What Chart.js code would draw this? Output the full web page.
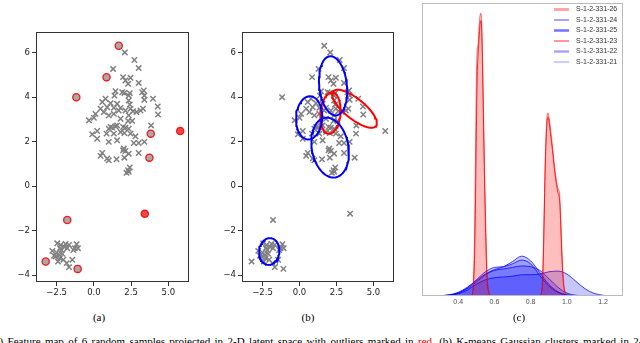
<!DOCTYPE html>
<html><head><meta charset="utf-8">
<script src="https://cdn.jsdelivr.net/npm/chart.js@4.4.1/dist/chart.umd.min.js"></script>
<style>
html,body{margin:0;padding:0;background:#fff;width:640px;height:343px;overflow:hidden;position:relative;}
canvas{position:absolute;top:0;}
.cap{position:absolute;top:311px;font-family:"Liberation Serif","Times New Roman",serif;font-size:11px;color:#000;transform:translateX(-50%);white-space:nowrap;}
#caption{position:absolute;left:-9px;top:335px;font-family:"Liberation Serif","Times New Roman",serif;font-size:11px;white-space:nowrap;word-spacing:1.6px;color:#000;}
#caption span{color:#e00;}
</style></head>
<body>
<canvas id="ca" width="200" height="300" style="left:0px"></canvas>
<canvas id="cb" width="200" height="300" style="left:205px"></canvas>
<canvas id="cc" width="226" height="312" style="left:414px"></canvas>
<div class="cap" style="left:99px">(a)</div>
<div class="cap" style="left:308px">(b)</div>
<div class="cap" style="left:519px">(c)</div>
<div id="caption">(a) Feature map of 6 random samples projected in 2-D latent space with outliers marked in <span>red</span>. (b) K-means Gaussian clusters marked in 2-D latent space (c) KDE</div>
<script>
// ---------- data: panels (a) and (b) ----------
const mainX = [2.08,2.72,3.01,1.29,1.96,2.46,2.12,2.30,3.01,3.24,3.35,1.45,1.90,2.05,2.41,1.38,2.34,3.39,3.97,3.39,2.34,0.78,0.56,1.12,1.56,2.41,4.29,0.89,0.45,1.34,1.67,1.79,2.12,2.46,2.63,3.13,2.86,3.30,0.11,0.67,1.00,1.34,0.00,-0.33,4.31,2.34,1.79,2.30,2.57,1.56,1.12,1.00,1.23,1.45,1.96,2.12,2.34,-0.11,0.22,0.22,0.85,1.34,1.79,2.05,2.46,2.79,1.00,1.56,2.68,3.01,3.39,3.84,2.01,2.12,1.96,2.34,3.01,0.56,0.45,0.89,1.00,1.52,2.05,2.41,2.30,2.19,2.34];
const mainY = [6.01,5.67,5.31,5.27,4.90,4.87,4.75,4.60,4.64,4.22,4.30,4.27,4.22,4.19,4.18,4.07,4.07,4.07,3.93,3.88,3.85,3.93,3.78,3.73,3.70,3.67,3.58,3.55,3.48,3.52,3.40,3.52,3.40,3.48,3.37,3.40,3.33,3.48,3.25,3.33,3.18,3.25,3.07,2.96,3.22,3.18,3.03,2.93,2.93,2.73,2.66,2.58,2.63,2.69,2.66,2.63,2.58,2.33,2.48,2.13,2.36,2.36,2.43,2.39,2.36,2.24,1.99,2.06,1.94,1.94,1.99,2.73,1.69,1.58,1.61,1.46,1.49,1.49,1.36,1.24,1.16,1.21,1.28,0.84,0.72,0.60,0.64];
const lowX = [-2.79,-2.46,-2.23,-1.90,-1.67,-1.16,-1.07,-2.28,-2.01,-1.79,-2.50,-2.34,-2.12,-2.57,-2.28,-2.05,-2.41,-1.38,-1.45,-1.83,-1.67,-1.29,-2.68,-2.17];
const lowY = [-2.91,-2.57,-2.64,-2.60,-2.64,-2.61,-2.79,-2.79,-2.72,-2.79,-2.99,-3.09,-3.04,-3.16,-3.24,-3.31,-3.39,-2.87,-3.31,-3.46,-3.64,-2.79,-3.13,-2.88];
const outlierX = [1.67,0.85,-1.18,3.82,5.80,3.73,3.42,-1.79,-3.24,-1.09];
const outlierY = [6.31,4.90,4.00,2.36,2.48,1.28,-1.24,-1.52,-3.39,-3.72];
const outlierKind = [0,0,0,0,1,0,1,0,0,0];
// Gaussian cluster ellipses (centre, two conjugate half-axes, in data units)
const ellCX = [2.27, 0.65, 2.07, -2.05, 2.09, 3.72];
const ellCY = [4.51, 3.07, 1.73, -2.94, 3.28, 3.48];
const ellUX = [-0.22, 0.10, -0.36, 0.10, 0.10, 1.45];
const ellUY = [1.33, 0.97, 1.34, 0.60, 0.93, -0.78];
const ellVX = [0.93, 0.88, 1.22, 0.68, 0.68, 0.43];
const ellVY = [0.07, -0.05, 0.14, -0.05, 0.00, 0.35];
const ellKind = ['blue','blue','blue','blue','red','red'];
const scatterXTicks = [-2.5, 0, 2.5, 5];
const scatterYTicks = [-4, -2, 0, 2, 4, 6];

// ---------- data: panel (c) ----------
const seriesNames = ['S-1-2-331-26','S-1-2-331-24','S-1-2-331-25','S-1-2-331-23','S-1-2-331-22','S-1-2-331-21'];
const redX = [0.2,0.46,0.475,0.48,0.485,0.49,0.495,0.50,0.505,0.51,0.515,0.52,0.525,0.53,0.535,0.54,0.545,0.55,0.555,0.56,0.57,0.58,
              0.85,0.86,0.865,0.87,0.875,0.88,0.885,0.89,0.895,0.90,0.91,0.92,0.93,0.94,0.95,0.96,0.965,0.97,0.975,0.98,0.99,1.0,1.31];
const s26 = [0,0,0.1,0.4,1.5,4,9,14.5,16.8,17.2,18.3,19.1,19.3,18.5,16,12.5,9,6,3.5,1.5,0.3,0,
             0,0.3,1,3,6,9,11,12.2,12.5,12.3,11.4,10.3,9.1,8.1,7.4,6.9,5.8,4,2.5,1.3,0.3,0,0];
const s23 = [0,0,0,0.2,0.8,2.5,6,11,15,16.5,17.5,18.5,18.8,18,15,11.5,8,5,2.5,1,0.2,0,
             0,0.2,0.8,2.5,5.5,8.5,10.5,11.8,12.2,12,11,10,8.8,7.8,7.1,6.5,5.2,3.5,2,1,0.2,0,0];
const blueX = [0.2,0.25,0.3,0.35,0.4,0.45,0.5,0.55,0.6,0.65,0.7,0.75,0.8,0.85,0.9,0.95,1.0,1.05,1.1,1.15,1.2,1.25,1.31];
const s24 = [0,0,0.01,0.06,0.2,0.55,1.1,1.65,1.95,2.0,2.2,2.45,2.2,1.4,0.7,0.25,0.06,0.01,0,0,0,0,0];
const s25 = [0,0,0.02,0.08,0.25,0.6,1.05,1.5,1.8,2.0,2.35,2.72,2.4,1.6,0.8,0.3,0.08,0.02,0,0,0,0,0];
const s22 = [0,0,0.01,0.05,0.15,0.4,0.8,1.1,1.25,1.3,1.35,1.45,1.45,1.5,1.65,1.7,1.5,1.0,0.5,0.18,0.05,0.01,0];
const s21 = [0,0,0.02,0.07,0.2,0.5,0.95,1.45,1.75,1.85,1.95,2.05,2.0,1.75,1.2,0.6,0.2,0.05,0.01,0,0,0,0];
const kdeXTicks = [0.4, 0.6, 0.8, 1.0, 1.2];

// ---------- helpers ----------
const pairs = (xs, ys) => xs.map((x, i) => ({x: x, y: ys[i]}));
const minus = s => s.replace('-', '\u2212');
const tickFont = {family: '"DejaVu Sans", sans-serif', size: 8.5};
const GRAY = 'rgb(128,128,128)';

const framePlugin = {
  id: 'frame',
  afterDraw(chart, args, opts) {
    const a = chart.chartArea, c = chart.ctx;
    c.save();
    c.strokeStyle = opts.color || '#333';
    c.lineWidth = 1;
    c.strokeRect(Math.round(a.left) + 0.5, Math.round(a.top) + 0.5,
                 Math.round(a.right - a.left) - 1, Math.round(a.bottom - a.top) - 1);
    c.restore();
  }
};

function scatterScales(yWidth) {
  return {
    x: {
      type: 'linear', min: -3.89, max: 6.39,
      afterBuildTicks: s => { s.ticks = scatterXTicks.map(v => ({value: v})); },
      afterFit: s => { s.height = 18; },
      ticks: {callback: v => minus(Number(v).toFixed(1)), font: tickFont, color: '#222', padding: 2, maxRotation: 0, autoSkip: false},
      grid: {drawOnChartArea: false, tickLength: 4, tickColor: '#333', tickWidth: 1},
      border: {display: false}
    },
    y: {
      type: 'linear', min: -4.31, max: 6.93,
      afterBuildTicks: s => { s.ticks = scatterYTicks.map(v => ({value: v})); },
      afterFit: s => { s.width = yWidth; },
      ticks: {callback: v => minus(String(v)), font: tickFont, color: '#222', padding: 2, autoSkip: false},
      grid: {drawOnChartArea: false, tickLength: 4, tickColor: '#333', tickWidth: 1},
      border: {display: false}
    }
  };
}

function baseOptions(scales, padding) {
  return {
    responsive: false, animation: false, devicePixelRatio: 1,
    layout: {padding: padding, autoPadding: false},
    plugins: {legend: {display: false}, tooltip: {enabled: false}, frame: {color: '#333'}},
    scales: scales
  };
}

const crossStyle = {
  pointStyle: 'crossRot', pointRadius: 3.8, pointBorderWidth: 1.5,
  borderColor: GRAY, backgroundColor: GRAY, showLine: false
};

// ---------- panel (a) ----------
new Chart(document.getElementById('ca'), {
  type: 'scatter',
  data: {datasets: [
    Object.assign({data: pairs(mainX.concat(lowX), mainY.concat(lowY)), order: 2}, crossStyle),
    {
      data: pairs(outlierX, outlierY), order: 1,
      pointStyle: 'circle', pointRadius: 3.6, pointBorderWidth: 1.3,
      pointBorderColor: 'rgba(255,0,0,0.9)',
      pointBackgroundColor: outlierKind.map(k => k ? '#ee4a4a' : '#a8a8a8')
    }
  ]},
  options: baseOptions(scatterScales(36), {top: 32, right: 11, left: 0, bottom: 0}),
  plugins: [framePlugin]
});

// ---------- panel (b) ----------
function ellipsePoints(i) {
  const pts = [];
  for (let k = 0; k <= 72; k++) {
    const t = k / 72 * 2 * Math.PI;
    pts.push({x: ellCX[i] + ellUX[i] * Math.cos(t) + ellVX[i] * Math.sin(t),
              y: ellCY[i] + ellUY[i] * Math.cos(t) + ellVY[i] * Math.sin(t)});
  }
  return pts;
}
const ellipseSets = ellCX.map((_, i) => ({
  data: ellipsePoints(i), showLine: true, pointRadius: 0, borderWidth: 2,
  borderColor: ellKind[i] === 'red' ? '#ff0000' : '#0000ff', tension: 0, fill: false, order: 1
}));
new Chart(document.getElementById('cb'), {
  type: 'scatter',
  data: {datasets: [
    Object.assign({data: pairs(mainX.concat(lowX, outlierX), mainY.concat(lowY, outlierY)), order: 3}, crossStyle)
  ].concat(ellipseSets)},
  options: baseOptions(scatterScales(37), {top: 32, right: 11, left: 0, bottom: 0}),
  plugins: [framePlugin]
});

// ---------- panel (c) ----------
const kdeStyles = [
  {xs: redX,  ys: s26, line: 'rgba(255,0,0,0.55)', fill: 'rgba(255,0,0,0.2)',  lw: 1.0, legW: 3,   legC: 'rgba(255,0,0,0.35)'},
  {xs: blueX, ys: s24, line: 'rgba(0,0,255,0.75)', fill: 'rgba(0,0,255,0.22)', lw: 1.0, legW: 1,   legC: 'rgba(0,0,255,0.7)'},
  {xs: blueX, ys: s25, line: 'rgba(0,0,255,0.75)', fill: 'rgba(0,0,255,0.22)', lw: 1.0, legW: 2.5, legC: 'rgba(0,0,255,0.55)'},
  {xs: redX,  ys: s23, line: 'rgba(255,0,0,0.8)',  fill: 'rgba(255,0,0,0.07)', lw: 1.0, legW: 1,   legC: 'rgba(255,0,0,0.8)'},
  {xs: blueX, ys: s22, line: 'rgba(0,0,255,0.75)', fill: 'rgba(0,0,255,0.22)', lw: 1.0, legW: 2.5, legC: 'rgba(0,0,255,0.35)'},
  {xs: blueX, ys: s21, line: 'rgba(0,0,255,0.75)', fill: 'rgba(0,0,255,0.22)', lw: 1.0, legW: 1,   legC: 'rgba(0,0,255,0.4)'}
];
const kdeLegend = {
  id: 'kdeLegend',
  afterDraw(chart) {
    const c = chart.ctx, a = chart.chartArea;
    c.save();
    c.font = '7px "Liberation Sans", Arial, sans-serif';
    c.textBaseline = 'middle';
    seriesNames.forEach((n, i) => {
      const y = a.top + 6.5 + i * 10.5, x0 = a.right - 69;
      c.strokeStyle = kdeStyles[i].legC; c.lineWidth = kdeStyles[i].legW;
      c.beginPath(); c.moveTo(x0, y); c.lineTo(x0 + 15, y); c.stroke();
      c.fillStyle = '#333'; c.fillText(n, x0 + 22, y);
    });
    c.restore();
  }
};
new Chart(document.getElementById('cc'), {
  type: 'scatter',
  data: {datasets: kdeStyles.map((s, i) => ({
    label: seriesNames[i], data: pairs(s.xs, s.ys), showLine: true, pointRadius: 0,
    borderColor: s.line, borderWidth: s.lw, backgroundColor: s.fill, fill: 'origin',
    cubicInterpolationMode: 'monotone', order: i
  }))},
  options: {
    responsive: false, animation: false, devicePixelRatio: 1,
    layout: {padding: {top: 3, right: 17, left: 8, bottom: 0}, autoPadding: false},
    plugins: {legend: {display: false}, tooltip: {enabled: false}, frame: {color: '#bbbbbb'}},
    scales: {
      x: {
        type: 'linear', min: 0.2, max: 1.31,
        afterBuildTicks: s => { s.ticks = kdeXTicks.map(v => ({value: v})); },
        afterFit: s => { s.height = 16; },
        ticks: {callback: v => Number(v).toFixed(1), font: {family: '"Liberation Sans", Arial, sans-serif', size: 7}, color: '#555', padding: 2, maxRotation: 0, autoSkip: false},
        grid: {display: false, drawTicks: false}, border: {display: false}
      },
      y: {type: 'linear', min: 0, max: 20, display: false}
    }
  },
  plugins: [framePlugin, kdeLegend]
});
</script>
</body></html>
